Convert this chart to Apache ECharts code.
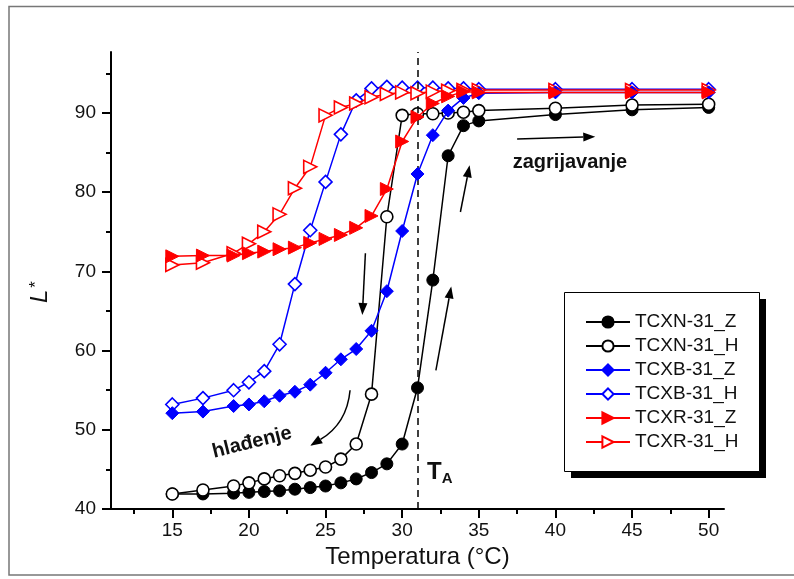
<!DOCTYPE html>
<html><head><meta charset="utf-8">
<script src="https://cdn.jsdelivr.net/npm/echarts@6/dist/echarts.min.js"></script>
<style>html,body{margin:0;padding:0;background:#fff}#c{width:794px;height:579px}</style>
</head><body><div id="c"></div>
<script>
// ---- data ----
const temps = [15,17,19,20,21,22,23,24,25,26,27,28,29,30,31,32,33,34,35,40,45,50];
const tcxnZ = [41.9,41.9,42.0,42.1,42.2,42.3,42.5,42.7,42.9,43.3,43.8,44.6,45.7,48.2,55.3,68.9,84.6,88.4,89.0,89.8,90.4,90.7];
const tcxnH = [41.9,42.4,42.9,43.3,43.8,44.2,44.5,44.9,45.3,46.3,48.2,54.5,76.9,89.7,89.9,89.9,90.0,90.1,90.3,90.6,91.0,91.1];
const tcxbZ = [52.1,52.3,53.0,53.2,53.6,54.3,54.8,55.7,57.2,58.9,60.2,62.5,67.5,75.1,82.3,87.2,90.3,91.9,92.5,92.6,92.6,92.6];
const tcxbH = [53.2,54.0,55.0,56.0,57.4,60.8,68.4,75.2,81.3,87.3,91.6,93.1,93.3,93.2,93.2,93.2,93.1,93.1,93.0,93.0,93.0,93.0];
const tcxrZ = [71.9,72.0,72.0,72.3,72.5,72.8,73.0,73.6,74.1,74.6,75.5,77.0,80.4,86.4,89.5,91.2,92.1,92.7,92.6,92.6,92.6,92.6];
const tcxrH = [70.8,71.1,72.3,73.5,75.0,77.2,80.5,83.2,89.7,90.7,91.2,92.0,92.4,92.6,92.5,92.7,92.8,92.9,92.9,92.9,92.9,92.9];
const seriesNames = ['TCXN-31_Z','TCXN-31_H','TCXB-31_Z','TCXB-31_H','TCXR-31_Z','TCXR-31_H'];
const TA = 31;
const xMajor = [15,20,25,30,35,40,45,50];
const xMinor = [12.5,17.5,22.5,27.5,32.5,37.5,42.5,47.5];
const yMajor = [40,50,60,70,80,90];
const yMinor = [45,55,65,75,85,95];
// annotations (data coordinates)
const arrowRight = [[37.5,86.7],[42.6,87.0]];
const arrowUp1 = [[32.2,57.5],[33.2,68.1]];
const arrowUp2 = [[33.8,77.5],[34.4,83.4]];
const arrowDown = [[27.6,72.3],[27.4,64.5]];
const arrowCurve = [[26.6,55.0],[26.4,50.8],[24.0,48.0]];
const labelHeat = {text:'zagrijavanje', at:[40.95,83.8]};
const labelCool = {text:'hlađenje', at:[20.2,48.4]};
const labelTA = {at:[32.45,44.6]};

const FONT = '"Liberation Sans", Arial, sans-serif';
const triPath = 'path://M0,0L10,5L0,10Z';

function mk(name, vals, color, symbol, size, filled, z) {
  return {
    name, type:'line', data: temps.map((t,i)=>[t, vals[i]]), z,
    symbol, symbolSize:size, symbolKeepAspect:true, showAllSymbol:true,
    lineStyle:{color, width:1.5},
    itemStyle: filled ? {color, borderColor:color, borderWidth:1} : {color:'#fff', borderColor:color, borderWidth:1.6},
    emphasis:{disabled:true}, animation:false
  };
}

const chart = echarts.init(document.getElementById('c'), null, {renderer:'canvas'});
const series = [
  mk(seriesNames[0], tcxnZ, '#000', 'circle', 12, true, 2),
  mk(seriesNames[1], tcxnH, '#000', 'circle', 12, false, 3),
  mk(seriesNames[2], tcxbZ, '#0000ff', 'diamond', 13, true, 6),
  mk(seriesNames[3], tcxbH, '#0000ff', 'diamond', 13, false, 4),
  mk(seriesNames[4], tcxrZ, '#ff0000', triPath, 13, true, 7),
  mk(seriesNames[5], tcxrH, '#ff0000', triPath, 13, false, 5)
];
series[0].markLine = {
  silent:true, symbol:'none', label:{show:false}, animation:false,
  lineStyle:{color:'#000', width:1.5, type:[7,5]},
  data:[{xAxis:TA}]
};

const axisBase = {type:'value', min:11, max:51, splitLine:{show:false}};
chart.setOption({
  animation:false,
  backgroundColor:'#fff',
  grid:{left:111, top:52, right:70, bottom:70},
  xAxis:[
    Object.assign({}, axisBase, {
      position:'bottom',
      axisLine:{show:true, lineStyle:{color:'#000', width:2}},
      axisTick:{show:true, length:9, lineStyle:{color:'#000', width:2}, customValues:xMajor},
      axisLabel:{color:'#111', fontSize:19, fontFamily:FONT, margin:12, customValues:xMajor},
      name:'Temperatura (°C)', nameLocation:'middle', nameGap:30,
      nameTextStyle:{color:'#111', fontSize:24, fontFamily:FONT, verticalAlign:'top'}
    }),
    Object.assign({}, axisBase, {
      position:'bottom',
      axisLine:{show:false},
      axisTick:{show:true, length:5, lineStyle:{color:'#000', width:2}, customValues:xMinor},
      axisLabel:{show:false}
    })
  ],
  yAxis:[
    {type:'value', min:40, max:97.7, position:'left', splitLine:{show:false},
     axisLine:{show:true, lineStyle:{color:'#000', width:2}},
     axisTick:{show:true, length:9, lineStyle:{color:'#000', width:2}, customValues:yMajor},
     axisLabel:{color:'#111', fontSize:19, fontFamily:FONT, margin:15, customValues:yMajor}},
    {type:'value', min:40, max:97.7, position:'left', splitLine:{show:false},
     axisLine:{show:false},
     axisTick:{show:true, length:5, lineStyle:{color:'#000', width:2}, customValues:yMinor},
     axisLabel:{show:false}}
  ],
  legend:{
    orient:'vertical', left:564, top:292,
    padding:[20,20,20,21], itemGap:4, itemWidth:44, itemHeight:14,
    textStyle:{fontSize:19, fontFamily:FONT, color:'#111', lineHeight:20},
    data: seriesNames
  },
  series
});

function px(p){ return chart.convertToPixel({xAxisIndex:0, yAxisIndex:0}, p); }
function head(tip, from){
  const dx = tip[0]-from[0], dy = tip[1]-from[1];
  const len = Math.hypot(dx,dy), ux = dx/len, uy = dy/len;
  const L = 12, W = 4.5;
  const bx = tip[0]-ux*L, by = tip[1]-uy*L;
  return {poly:{type:'polygon', shape:{points:[tip,[bx-uy*W, by+ux*W],[bx+uy*W, by-ux*W]]}, style:{fill:'#000'}}, base:[bx,by]};
}
function straightArrow(a){
  const p0 = px(a[0]), p1 = px(a[1]);
  const h = head(p1, p0);
  return [{type:'line', shape:{x1:p0[0], y1:p0[1], x2:h.base[0], y2:h.base[1]}, style:{stroke:'#000', lineWidth:1.5}}, h.poly];
}
function curveArrow(a){
  const p0 = px(a[0]), c = px(a[1]), p1 = px(a[2]);
  const h = head(p1, c);
  return [{type:'bezierCurve', shape:{x1:p0[0], y1:p0[1], cpx1:c[0], cpy1:c[1], x2:h.base[0], y2:h.base[1]}, style:{stroke:'#000', lineWidth:1.5, fill:null}}, h.poly];
}
const lx = 564, ly = 292, lw = 195, lh = 179;
const heatP = px(labelHeat.at), coolP = px(labelCool.at), taP = px(labelTA.at);
const graphics = [
  {type:'rect', shape:{x:9, y:6.5, width:800, height:568.5}, style:{fill:null, stroke:'#777', lineWidth:1.5}, silent:true, z:-1},
  {type:'rect', shape:{x:lx+7, y:ly+7, width:lw, height:lh}, style:{fill:'#000'}, z:1},
  {type:'rect', shape:{x:lx+0.5, y:ly+0.5, width:lw, height:lh}, style:{fill:'#fff', stroke:'#000', lineWidth:1}, z:2},
  {type:'text', x:40, y:292, rotation:Math.PI/2,
   style:{text:'{i|L}{s|*}', align:'center', verticalAlign:'middle',
     rich:{i:{fontSize:24, fontStyle:'italic', fontFamily:FONT, fill:'#111'}, s:{fontSize:17, fontFamily:FONT, fill:'#111', verticalAlign:'top', padding:[0,0,8,2]}}}},
  {type:'text', x:heatP[0], y:heatP[1], style:{text:labelHeat.text, fontSize:20, fontWeight:'bold', fontFamily:FONT, fill:'#111', align:'center', verticalAlign:'middle'}},
  {type:'text', x:coolP[0], y:coolP[1], rotation:14*Math.PI/180, style:{text:labelCool.text, fontSize:20, fontWeight:'bold', fontFamily:FONT, fill:'#111', align:'center', verticalAlign:'middle'}},
  {type:'text', x:taP[0], y:taP[1], style:{text:'{t|T}{a|A}', align:'center', verticalAlign:'middle',
     rich:{t:{fontSize:24, fontWeight:'bold', fontFamily:FONT, fill:'#111'}, a:{fontSize:15, fontWeight:'bold', fontFamily:FONT, fill:'#111', verticalAlign:'bottom', padding:[12,0,0,0]}}}}
].concat(straightArrow(arrowRight), straightArrow(arrowUp1), straightArrow(arrowUp2), straightArrow(arrowDown), curveArrow(arrowCurve));
chart.setOption({graphic: graphics});
</script>
</body></html>
